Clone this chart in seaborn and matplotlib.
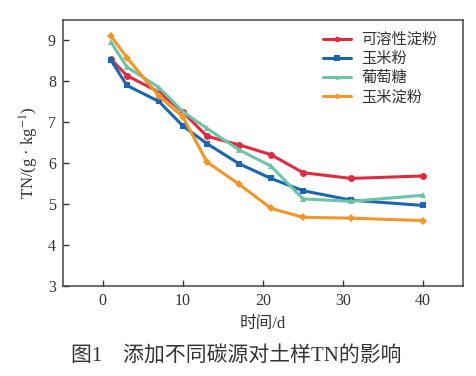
import numpy as np
import pandas as pd
import matplotlib
matplotlib.use("Agg")
import matplotlib.pyplot as plt
import seaborn as sns

days = [1, 3, 7, 10, 13, 17, 21, 25, 31, 40]
series_names = ["可溶性淀粉", "玉米粉", "葡萄糖", "玉米淀粉"]
soluble_starch = [8.54, 8.14, 7.74, 7.25, 6.66, 6.45, 6.21, 5.77, 5.63, 5.69]
corn_flour = [8.52, 7.90, 7.51, 6.91, 6.48, 5.99, 5.63, 5.33, 5.10, 4.97]
glucose = [8.96, 8.35, 7.85, 7.26, 6.85, 6.33, 5.93, 5.13, 5.07, 5.22]
corn_starch = [9.11, 8.58, 7.64, 7.13, 6.03, 5.49, 4.90, 4.68, 4.66, 4.60]
x_ticks = [0, 10, 20, 30, 40]
y_ticks = [3, 4, 5, 6, 7, 8, 9]

values = [soluble_starch, corn_flour, glucose, corn_starch]
df = pd.DataFrame({
    "day": days * 4,
    "TN": sum(values, []),
    "series": [n for n in series_names for _ in days],
})

sns.set_style("ticks")
plt.rcParams["font.family"] = ["Liberation Serif", "Noto Sans CJK SC", "DejaVu Sans"]
plt.rcParams["mathtext.fontset"] = "stix"

colors = ["#e12a3f", "#1a66b0", "#6cc4a6", "#f39628"]
markers = ["o", "s", "^", "D"]
msizes = {"可溶性淀粉": 5, "玉米粉": 5, "葡萄糖": 4, "玉米淀粉": 4}

fig = plt.figure(figsize=(4.76, 3.76), dpi=100)
ax = fig.add_axes([0.132, 0.239, 0.841, 0.708])

for name, c, m in zip(series_names, colors, markers):
    sub = df[df["series"] == name]
    sns.lineplot(data=sub, x="day", y="TN", ax=ax, color=c, marker=m,
                 markersize=msizes[name], markeredgewidth=0, linewidth=2.2,
                 label=name)

ax.set_xlim(-5, 45)
ax.set_ylim(3, 9.5)
ax.set_xticks(x_ticks)
ax.set_yticks(y_ticks)
ax.tick_params(direction="in", length=4, width=1, labelsize=11.5, colors="#333333",
               labelcolor="#333333", pad=5)
for s in ax.spines.values():
    s.set_color("#444444")
    s.set_linewidth(1.1)

ax.set_xlabel("时间/d", fontsize=12, color="#333333", labelpad=5)
ax.set_ylabel(r"TN/(g · kg$^{-1}$)", fontsize=12, color="#333333", labelpad=5)

leg = ax.legend(loc="upper left", frameon=False, fontsize=11, handlelength=1.85,
                handletextpad=0.65, labelspacing=0.33, borderpad=0, borderaxespad=0,
                markerscale=0.8, bbox_to_anchor=(0.65, 0.952))
for t in leg.get_texts():
    t.set_color("#333333")

fig.text(0.497, 0.055, "图1　添加不同碳源对土样TN的影响", ha="center", va="center",
         fontsize=15, color="#333333")

fig.savefig("out.png", dpi=100)
